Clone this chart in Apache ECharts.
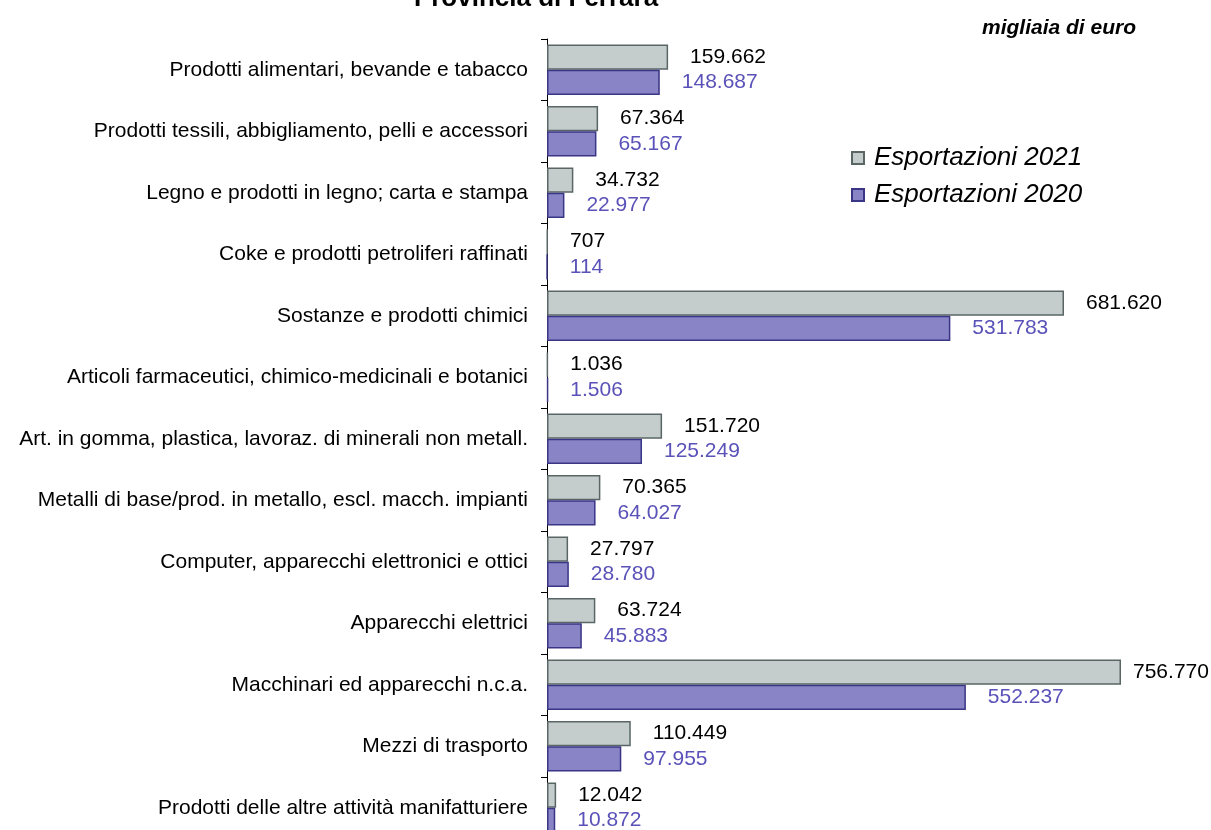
<!DOCTYPE html>
<html><head><meta charset="utf-8">
<script src="https://cdn.jsdelivr.net/npm/echarts@6/dist/echarts.min.js"></script>
<style>html,body{margin:0;padding:0;overflow:hidden;background:#fff;width:1211px;height:830px}
#c{position:absolute;left:0;top:-20px;width:1211px;height:870px}</style>
</head><body><div id="c"></div>
<script>
const categories = [
  "Prodotti alimentari, bevande e tabacco",
  "Prodotti tessili, abbigliamento, pelli e accessori",
  "Legno e prodotti in legno; carta e stampa",
  "Coke e prodotti petroliferi raffinati",
  "Sostanze e prodotti chimici",
  "Articoli farmaceutici, chimico-medicinali e botanici",
  "Art. in gomma, plastica, lavoraz. di minerali non metall.",
  "Metalli di base/prod. in metallo, escl. macch. impianti",
  "Computer, apparecchi elettronici e ottici",
  "Apparecchi elettrici",
  "Macchinari ed apparecchi n.c.a.",
  "Mezzi di trasporto",
  "Prodotti delle altre attività manifatturiere"
];
const exp2021 = [159662, 67364, 34732, 707, 681620, 1036, 151720, 70365, 27797, 63724, 756770, 110449, 12042];
const exp2020 = [148687, 65167, 22977, 114, 531783, 1506, 125249, 64027, 28780, 45883, 552237, 97955, 10872];
const seriesNames = ["Esportazioni 2021", "Esportazioni 2020"];

const fmt = v => v.toLocaleString('de-DE');
// the longest bar's label is pulled closer to the bar so it stays inside the picture
const maxIdx = exp2021.indexOf(Math.max(...exp2021));
const data2021 = exp2021.map((v, i) => i === maxIdx ? {value: v, label: {distance: 12}} : v);

const chart = echarts.init(document.getElementById('c'));
chart.setOption({
  animation: false,
  textStyle: {fontFamily: 'Liberation Sans, Arial, sans-serif'},
  title: [{
    text: 'Provincia di Ferrara', left: 531, top: 1, textAlign: 'center',
    textStyle: {fontSize: 26, fontWeight: 'bold', color: '#000', fontFamily: 'Liberation Sans'}
  }, {
    text: 'migliaia di euro', right: 70, top: 33,
    textStyle: {fontSize: 21, fontWeight: 'bold', fontStyle: 'italic', color: '#000', fontFamily: 'Liberation Sans'}
  }],
  legend: {
    orient: 'vertical', left: 846, top: 159, itemWidth: 12, itemHeight: 12, itemGap: 9,
    icon: 'rect',
    data: seriesNames,
    textStyle: {fontSize: 26, lineHeight: 28, fontStyle: 'italic', color: '#000', fontFamily: 'Liberation Sans', padding: [0, 0, 0, 5]}
  },
  grid: {left: 547, top: 59, width: 606.8, height: 799.5, containLabel: false},
  xAxis: {type: 'value', min: 0, max: 800000, show: false},
  yAxis: {
    type: 'category', inverse: true, data: categories,
    axisLine: {show: true, lineStyle: {color: '#000', width: 1}},
    axisTick: {show: true, length: 6, lineStyle: {color: '#000'}},
    axisLabel: {fontSize: 21, color: '#000', margin: 19, fontFamily: 'Liberation Sans'}
  },
  series: [{
    name: seriesNames[0], type: 'bar', data: data2021, barGap: '0%', barCategoryGap: '18%',
    itemStyle: {color: '#c5cccc', borderColor: '#5a6666', borderWidth: 1.5},
    label: {show: true, position: 'right', distance: 22, fontSize: 21, color: '#000', formatter: p => fmt(p.value)}
  }, {
    name: seriesNames[1], type: 'bar', data: exp2020,
    itemStyle: {color: '#8884c6', borderColor: '#3a3585', borderWidth: 1.5},
    label: {show: true, position: 'right', distance: 22, fontSize: 21, color: '#5a52b8', formatter: p => fmt(p.value)}
  }]
});
</script></body></html>
